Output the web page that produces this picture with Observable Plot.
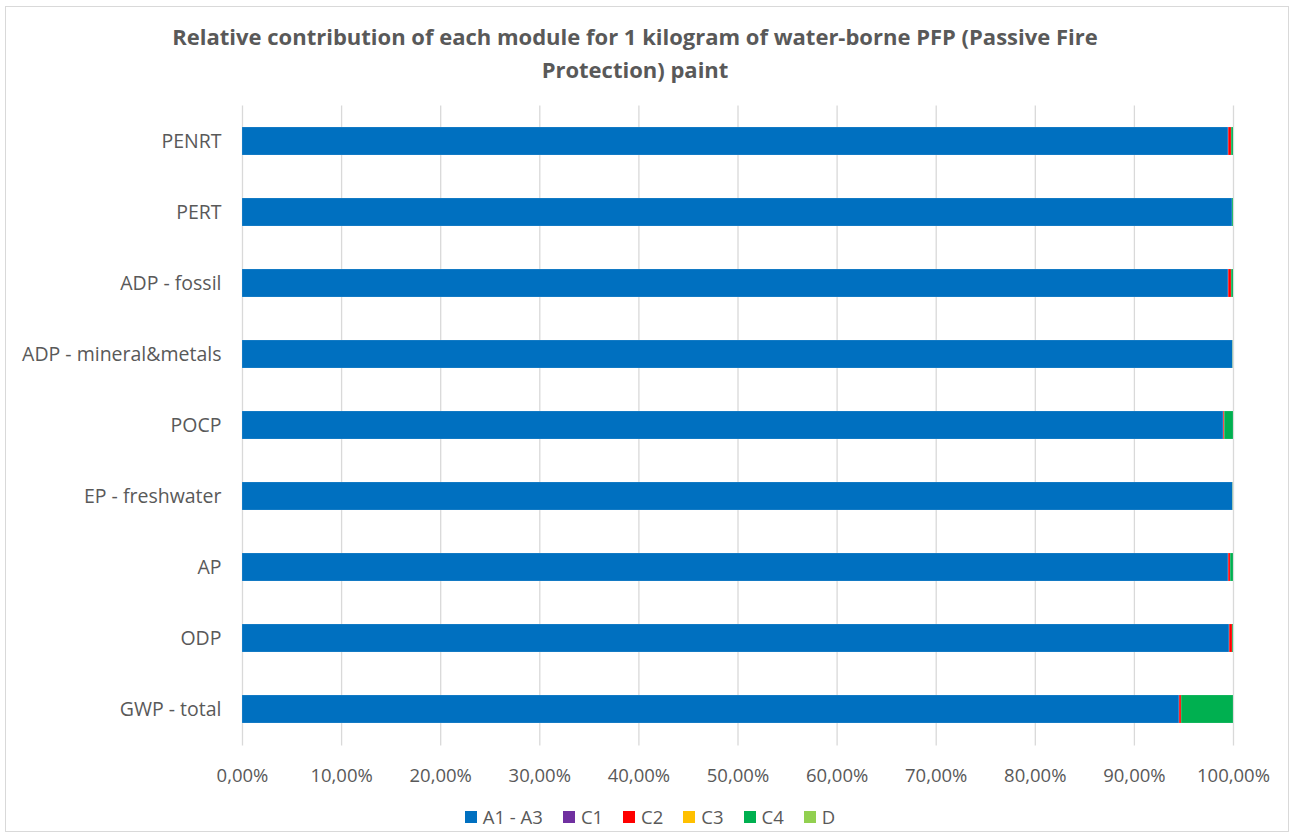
<!DOCTYPE html>
<html>
<head>
<meta charset="utf-8">
<script src="https://cdn.jsdelivr.net/npm/d3@7"></script>
<script src="https://cdn.jsdelivr.net/npm/@observablehq/plot@0.6"></script>
<style>
  html, body { margin: 0; padding: 0; background: #fff; }
  body { width: 1296px; height: 838px; position: relative; overflow: hidden; font-family: "Open Sans", "Liberation Sans", sans-serif; }
  #frame { position: absolute; left: 5px; top: 6px; width: 1284px; height: 826px; border: 1px solid #d9d9d9; box-sizing: border-box; }
  #title { position: absolute; left: 0; top: 20px; width: 1270px; text-align: center; font-size: 22px; font-weight: bold; color: #595959; line-height: 33px; }
  #chart { position: absolute; left: 0; top: 0; }
  #legend { position: absolute; left: 0; top: 804px; width: 1300px; display: flex; justify-content: center; gap: 20px; font-size: 18.5px; color: #595959; }
  #legend .item { display: flex; align-items: center; gap: 6px; }
  #legend .sw { width: 12px; height: 12px; display: inline-block; }
</style>
</head>
<body>
<div id="frame"></div>
<div id="title">Relative contribution of each module for 1 kilogram of water-borne PFP (Passive Fire<br>Protection) paint</div>
<div id="chart"></div>
<div id="legend"></div>
<script>
const categories = ["PENRT", "PERT", "ADP - fossil", "ADP - mineral&metals", "POCP", "EP - freshwater", "AP", "ODP", "GWP - total"];
const modules = ["A1 - A3", "C1", "C2", "C3", "C4", "D"];
const colors = ["#0070c0", "#7030a0", "#ff0000", "#ffc000", "#00b050", "#92d050"];
// percentage shares per module, in category order
const a1a3 = [99.5, 99.9, 99.5, 99.95, 99.0, 99.95, 99.5, 99.6, 94.55];
const c1   = [0.01, 0.0, 0.01, 0.0, 0.01, 0.0, 0.01, 0.01, 0.01];
const c2   = [0.3, 0.0, 0.3, 0.02, 0.1, 0.02, 0.2, 0.3, 0.2];
const c3   = [0.0, 0.0, 0.0, 0.0, 0.0, 0.0, 0.0, 0.0, 0.0];
const c4   = [0.19, 0.1, 0.19, 0.03, 0.89, 0.03, 0.29, 0.09, 5.24];
const dmod = [0.0, 0.0, 0.0, 0.0, 0.0, 0.0, 0.0, 0.0, 0.0];
const xTicks = [0, 10, 20, 30, 40, 50, 60, 70, 80, 90, 100];

const series = [a1a3, c1, c2, c3, c4, dmod];
const data = [];
categories.forEach((cat, i) => {
  series.forEach((s, j) => data.push({category: cat, module: modules[j], value: s[i]}));
});

const fmt = d => d.toFixed(2).replace(".", ",") + "%";

const chart = Plot.plot({
  width: 1296,
  height: 800,
  marginLeft: 242,
  marginRight: 63,
  marginTop: 105.4,
  marginBottom: 54.4,
  style: {fontFamily: "'Open Sans', 'Liberation Sans', sans-serif", fontSize: "17px", color: "#595959", background: "transparent"},
  x: {domain: [0, 100], ticks: xTicks, tickFormat: fmt, label: null, tickSize: 0},
  y: {domain: categories, label: null, tickSize: 0, paddingInner: 0.6, paddingOuter: 0.3},
  color: {domain: modules, range: colors},
  marks: [
    Plot.gridX(xTicks, {stroke: "#d9d9d9", strokeOpacity: 1, strokeWidth: 1.3}),
    Plot.barX(data, Plot.stackX({x: "value", y: "category", fill: "module", order: modules, stroke: "#ffffff", strokeOpacity: 0.25, strokeWidth: 0.6})),
    Plot.axisX({ticks: xTicks, tickFormat: fmt, tickSize: 0, tickPadding: 23, fill: "#595959", fontSize: 18.5, label: null}),
    Plot.axisY({tickSize: 0, tickPadding: 21, fill: "#595959", fontSize: 19.5, label: null})
  ]
});
document.getElementById("chart").appendChild(chart);

const legend = document.getElementById("legend");
modules.forEach((m, i) => {
  const it = document.createElement("div");
  it.className = "item";
  const sw = document.createElement("span");
  sw.className = "sw";
  sw.style.background = colors[i];
  const tx = document.createElement("span");
  tx.textContent = m;
  it.appendChild(sw); it.appendChild(tx);
  legend.appendChild(it);
});
</script>
</body>
</html>
